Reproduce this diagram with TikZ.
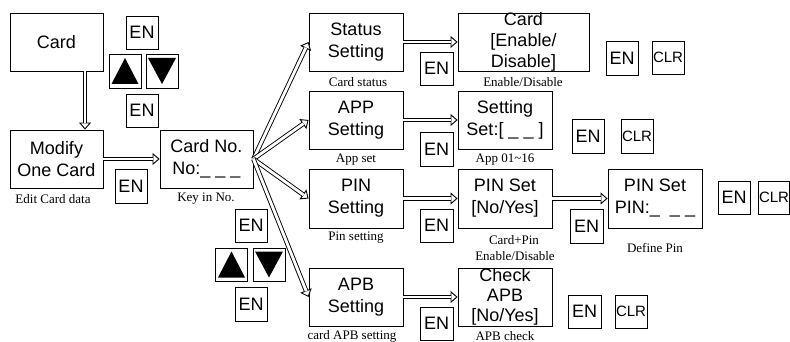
\documentclass[tikz,border=0pt]{standalone}
\usepackage{fontspec}
\setmainfont{Liberation Sans}
\newfontfamily\seriffont{Liberation Serif}
\usetikzlibrary{arrows.meta,calc}
\newcommand\darrow[2]{%
  \draw[tipst] ($(#2)!8pt!(#1)$) -- (#2);
  \draw[dbl] (#1) -- (#2);}
\begin{document}
\begin{tikzpicture}[x=1pt,y=-1pt,
  box/.style={draw, line width=0.9pt, minimum width=93pt, minimum height=58pt, inner sep=0pt, align=center, font=\fontsize{18}{22}\selectfont},
  key/.style={draw, line width=0.9pt, minimum width=32pt, minimum height=33pt, inner sep=0pt, font=\fontsize{18}{22}\selectfont},
  clr/.style={key, font=\fontsize{15}{18}\selectfont},
  lbl/.style={font=\seriffont\fontsize{13}{16}\selectfont, inner sep=0pt, align=center},
  dbl/.style={double, double distance=2.8pt, line width=0.9pt, shorten >=6.2pt},
  tipst/.style={line width=0.9pt, -{Triangle[length=7pt, width=12pt, fill=white]}},
  txt/.style={inner sep=0pt, align=center, font=\fontsize{18}{21}\selectfont},
]
\useasboundingbox (0,0) rectangle (790,342);

% left column
\node[box] (card) at (56.5,42) {Card};
\node[box] (modify) at (56.5,159) {Modify\\One Card};
\node[box] (cardno) at (206.5,159) {Card No.\\No:\_ \_ \_};
\node[lbl] (l1) at (53,199) {Edit Card data};
\node[lbl] (l2) at (206,199) {Key in No.};

\node[key] (en1) at (142,32.5) {EN};
\node[key, minimum height=34pt] (up1) at (125,71) {};
\node[key, minimum height=34pt] (dn1) at (162,71) {};
\node[key] (en2) at (142,110.5) {EN};
\node[key, minimum height=34pt] (en3) at (131,186) {EN};

\node[key] (en4) at (251,225.5) {EN};
\node[key] (up2) at (231.5,264.5) {};
\node[key] (dn2) at (269,264.5) {};
\node[key, minimum height=34pt] (en5) at (251,304) {EN};

\fill[shift={(up1.center)}] (-13.5,13) -- (13.5,13) -- (0,-13) -- cycle;
\fill[shift={(dn1.center)}] (-14,-13) -- (14,-13) -- (0,13) -- cycle;
\fill[shift={(up2.center)}] (-13.5,13) -- (13.5,13) -- (0,-13) -- cycle;
\fill[shift={(dn2.center)}] (-14,-13) -- (14,-13) -- (0,13) -- cycle;

% middle column
\node[box, minimum width=94pt] (status) at (356,42) {Status\\Setting};
\node[box, minimum width=94pt] (app) at (356,120) {APP\\Setting};
\node[box, minimum width=94pt, minimum height=59pt] (pin) at (356,198.5) {PIN\\Setting};
\node[box, minimum width=94pt] (apb) at (356,297) {APB\\Setting};
\node[lbl] (l3) at (358,82) {Card status};
\node[lbl] (l4) at (356,160) {App set};
\node[lbl] (l5) at (356,238) {Pin setting};
\node[lbl] (l6) at (352,336) {card APB setting};

\node[key, minimum width=33pt] (enS) at (436.5,68.5) {EN};
\node[key, minimum width=33pt, minimum height=34pt] (enA) at (436.5,149) {EN};
\node[key, minimum width=33pt] (enP) at (436.5,225.5) {EN};
\node[key, minimum width=33pt] (enB) at (436.5,323.5) {EN};

% right column
\node[draw, line width=0.9pt, minimum width=131pt, minimum height=58pt, inner sep=0pt] (cbox) at (523.5,42) {};
\node[txt] (ctext) at (cbox.center) {Card\\{[}Enable/\\Disable{]}};
\node[box, minimum width=94pt] (setb) at (505,120) {Setting\\Set:{[} \_ \_ {]}};
\node[box, minimum width=94pt, minimum height=59pt] (pinset) at (505,198.5) {PIN Set\\{[}No/Yes{]}};
\node[draw, line width=0.9pt, minimum width=94pt, minimum height=58pt, inner sep=0pt] (chk) at (505,297) {};
\node[txt, font=\fontsize{18}{20}\selectfont] (chktext) at (chk.center) {Check\\APB\\{[}No/Yes{]}};
\node[box, minimum width=94pt, minimum height=59pt] (pinpin) at (655,198.5) {PIN Set\\PIN:\_\ \ \_ \_};

\node[lbl] (l7) at (523,82) {Enable/Disable};
\node[lbl] (l8) at (505,160) {App 01\textasciitilde16};
\node[lbl] (l9) at (514,240) {Card+Pin};
\node[lbl] (l10) at (515,256) {Enable/Disable};
\node[lbl] (l11) at (655,248) {Define Pin};
\node[lbl] (l12) at (505,336) {APB check};

\node[key, minimum width=33pt, minimum height=34pt] (enP2) at (586.5,226) {EN};

\node[key, minimum height=34pt] (k1) at (622,58) {EN};
\node[clr] (c1) at (668,57.5) {CLR};
\node[key, minimum height=34pt] (k2) at (588,136) {EN};
\node[clr, minimum height=34pt] (c2) at (637,136) {CLR};
\node[key] (k3) at (734,197.5) {EN};
\node[clr, minimum width=31pt] (c3) at (774,197.5) {CLR};
\node[key, minimum width=33pt] (k4) at (584.5,311.5) {EN};
\node[clr] (c4) at (631,311.5) {CLR};

% connectors
\darrow{[xshift=28.5pt]card.south}{[xshift=28.5pt]modify.north}
\darrow{modify.east}{cardno.west}
\darrow{cardno.east}{status.west}
\darrow{cardno.east}{app.west}
\darrow{cardno.east}{pin.west}
\darrow{cardno.east}{apb.west}
\darrow{status.east}{cbox.west}
\darrow{app.east}{setb.west}
\darrow{pin.east}{pinset.west}
\darrow{apb.east}{chk.west}
\darrow{pinset.east}{pinpin.west}
\end{tikzpicture}
\end{document}
